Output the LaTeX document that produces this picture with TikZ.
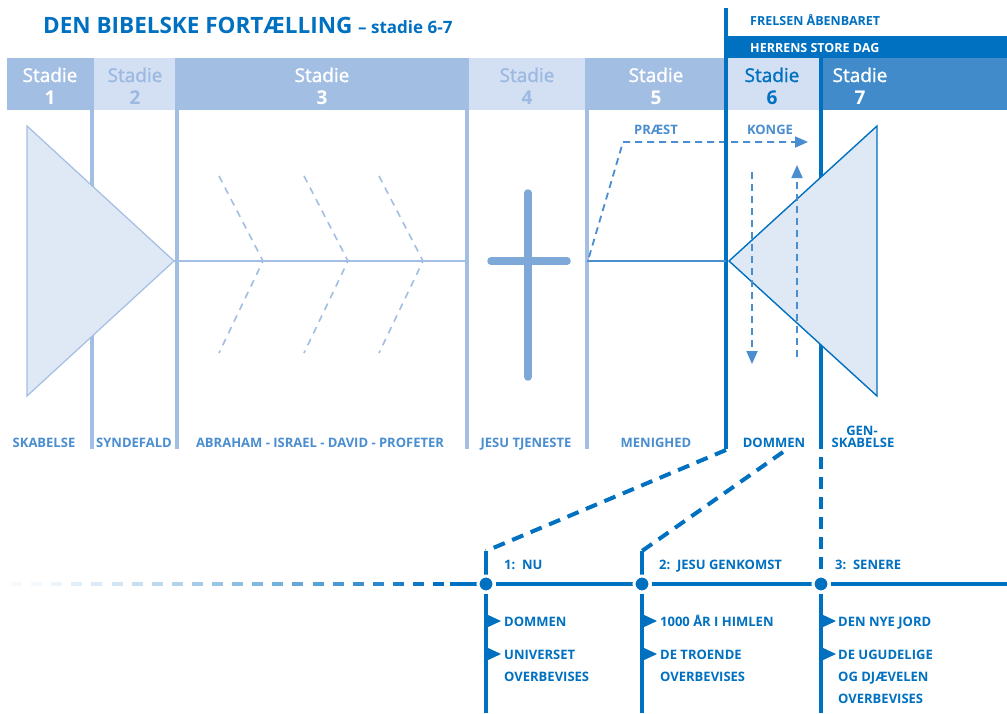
\documentclass[tikz,border=0pt]{standalone}
\usepackage{fontspec}
\setmainfont{Open Sans}
\newfontfamily\semif[FakeBold=1.3]{Open Sans}
\usetikzlibrary{arrows.meta}
\definecolor{dblue}{HTML}{0070C0}
\definecolor{mblue}{HTML}{428BCA}
\definecolor{lblue}{HTML}{A3BEE3}
\definecolor{llblue}{HTML}{D3DFF2}
\definecolor{tblue}{HTML}{4A8ED0}
\definecolor{sblue}{HTML}{9CB9E2}
\definecolor{trifill}{HTML}{DFE8F5}
\definecolor{crossc}{HTML}{7EA8D8}
\tikzset{
  hd/.style={anchor=base, inner sep=0pt, font=\semif\fontsize{19}{19}\selectfont},
  hdn/.style={anchor=base, inner sep=0pt, font=\fontsize{19}{19}\selectfont\bfseries},
  lab/.style={anchor=base, inner sep=0pt, text=tblue, font=\fontsize{13}{13}\selectfont\bfseries},
  dlab/.style={anchor=base, inner sep=0pt, text=dblue, font=\fontsize{13}{13}\selectfont\bfseries},
  item/.style={anchor=base west, inner sep=0pt, text=dblue, font=\fontsize{13}{13}\selectfont\bfseries},
  lline/.style={draw=lblue, line width=3.6pt},
  dline/.style={draw=dblue, line width=4pt},
  arr/.style={draw=tblue, line width=1.8pt, dash pattern=on 7pt off 5pt, -{Triangle[length=13pt,width=11pt]}},
  chev/.style={draw=lblue, line width=1.6pt, dash pattern=on 7pt off 6pt},
  tl/.style={draw=dblue, line width=4.5pt},
  dot/.style={circle, fill=dblue, draw=white, line width=3pt, minimum size=16pt, inner sep=0pt},
  flag/.style={fill=dblue},
}
\begin{document}
\begin{tikzpicture}[x=1pt,y=-1pt]
\useasboundingbox[fill=white] (0,0) rectangle (1007,713);
% title
\node[anchor=base west, inner sep=0pt, text=dblue] (title) at (43,33)
  {\fontsize{22.5}{22.5}\selectfont\bfseries DEN BIBELSKE FORTÆLLING\ \fontsize{17}{17}\selectfont – stadie 6-7};
% header boxes
\fill[lblue] (7,58) rectangle (92,110);
\fill[llblue] (92,58) rectangle (177,110);
\fill[lblue] (177,58) rectangle (467,110);
\fill[llblue] (467,58) rectangle (587,110);
\fill[lblue] (587,58) rectangle (726,110);
\fill[llblue] (726,58) rectangle (821,110);
\fill[mblue] (821,58) rectangle (1007,110);
\fill[dblue] (726,36) rectangle (1007,58);
% vertical lines
\draw[lline] (92,58) -- (92,449);
\draw[lline] (177,58) -- (177,449);
\draw[lline] (467,58) -- (467,449);
\draw[lline] (587,58) -- (587,449);
\draw[dline] (726,8) -- (726,449);
\draw[dline] (821,58) -- (821,449);
% header texts
\node[anchor=base west, inner sep=0pt, text=dblue, font=\fontsize{12.5}{12.5}\selectfont\bfseries] (frelsen) at (750,25) {FRELSEN ÅBENBARET};
\node[anchor=base west, inner sep=0pt, text=white, font=\fontsize{12.5}{12.5}\selectfont\bfseries] (herrens) at (750,52) {HERRENS STORE DAG};
\node[hd, text=white] (s1a) at (50,82) {Stadie};
\node[hdn, text=white] (s1b) at (50,104) {1};
\node[hd, text=sblue] (s2a) at (135,82) {Stadie};
\node[hdn, text=sblue] (s2b) at (135,104) {2};
\node[hd, text=white] (s3a) at (322,82) {Stadie};
\node[hdn, text=white] (s3b) at (322,104) {3};
\node[hd, text=sblue] (s4a) at (527,82) {Stadie};
\node[hdn, text=sblue] (s4b) at (527,104) {4};
\node[hd, text=white] (s5a) at (656,82) {Stadie};
\node[hdn, text=white] (s5b) at (656,104) {5};
\node[hd, text=dblue] (s6a) at (772,82) {Stadie};
\node[hdn, text=dblue] (s6b) at (772,104) {6};
\node[hd, text=white] (s7a) at (860,82) {Stadie};
\node[hdn, text=white] (s7b) at (860,104) {7};
% left triangle and line
\draw[lblue, line width=1.6pt] (174,261) -- (467,261);
\filldraw[fill=trifill, draw=lblue, line width=1.2pt, line join=miter] (27,126) -- (174,261) -- (27,396) -- cycle;
\draw[lline] (177,200) -- (177,320);
% chevrons
\foreach \x in {219,304,379}{
  \draw[chev] (\x,176) -- (\x+44,261) -- (\x,353);
}
% cross
\draw[crossc, line width=7.5pt, line cap=round] (528,193) -- (528,377);
\draw[crossc, line width=7.5pt, line cap=round] (491,261) -- (567,261);
% stage 5 line
\draw[tblue, line width=1.6pt] (587,261) -- (726,261);
\draw[arr] (589,257) -- (623,142) -- (808,142);
\draw[dline] (726,120) -- (726,200);
\node[lab] (praest) at (656,134) {PRÆST};
\node[lab] (konge) at (770,134) {KONGE};
% right triangle
\filldraw[fill=trifill, draw=dblue, line width=1.4pt, line join=miter] (729,261) -- (877,126) -- (877,396) -- cycle;
\draw[arr] (752,172) -- (752,364);
\draw[arr] (797,357) -- (797,165);
% bottom labels
\node[lab] (skab) at (44,447) {SKABELSE};
\node[lab] (synd) at (134,447) {SYNDEFALD};
\node[lab] (abr) at (320,447) {ABRAHAM - ISRAEL - DAVID - PROFETER};
\node[lab] (jesu) at (526,447) {JESU TJENESTE};
\node[lab] (men) at (656,447) {MENIGHED};
\node[dlab] (dom) at (774,447) {DOMMEN};
\node[dlab] (gen) at (863,447) {SKABELSE};
\node[dlab] (gen2) at (862,435) {GEN-};
% timeline
\coordinate (c1) at (486,551);
\coordinate (c2) at (642,551);
\node[dot] (d1) at (486,584) {};
\node[dot] (d2) at (642,584) {};
\node[dot] (d3) at (821,584) {};
\draw[dline, dash pattern=on 12pt off 8pt] (726,450) -- (c1);
\draw[dline, dash pattern=on 12pt off 8pt] (783,452) -- (c2);
\draw[dline, dash pattern=on 12pt off 8pt] (821,457) -- (821,576);
\draw[dline] (c1) -- (d1.north);
\draw[dline] (c2) -- (d2.north);
\draw[dline] (d1.south) -- (486,713);
\draw[dline] (d2.south) -- (642,713);
\draw[dline] (d3.south) -- (821,713);
\draw[tl] (d1.east) -- (d2.west);
\draw[tl] (d2.east) -- (d3.west);
\draw[tl] (d3.east) -- (1007,584);
\draw[tl] (450,584) -- (d1.west);
\foreach \i in {0,...,21}{
  \pgfmathsetmacro\op{0.03+0.97*(\i/21)^1.3}
  \draw[tl, draw opacity=\op] (11+20.1*\i,584) -- ++(11,0);
}
\node[dot] at (d1) {};
\node[dot] at (d2) {};
\node[dot] at (d3) {};
\node[item] (h1) at (504,569) {1:\ \ NU};
\node[item] (h2) at (659,569) {2:\ \ JESU GENKOMST};
\node[item] (h3) at (835,569) {3:\ \ SENERE};
\foreach \x in {486,642,821}{
  \fill[flag] (\x,614) -- (\x+15,621) -- (\x,628) -- cycle;
  \fill[flag] (\x,647) -- (\x+15,654) -- (\x,661) -- cycle;
}
\node[item] (i11) at (504,626) {DOMMEN};
\node[item] (i12) at (504,659) {UNIVERSET};
\node[item] (i12b) at (504,681) {OVERBEVISES};
\node[item] (i21) at (660,626) {1000 ÅR I HIMLEN};
\node[item] (i22) at (660,659) {DE TROENDE};
\node[item] (i22b) at (660,681) {OVERBEVISES};
\node[item] (i31) at (838,626) {DEN NYE JORD};
\node[item] (i32) at (838,659) {DE UGUDELIGE};
\node[item] (i32b) at (838,681) {OG DJÆVELEN};
\node[item] (i32c) at (838,703) {OVERBEVISES};
\end{tikzpicture}
\end{document}
